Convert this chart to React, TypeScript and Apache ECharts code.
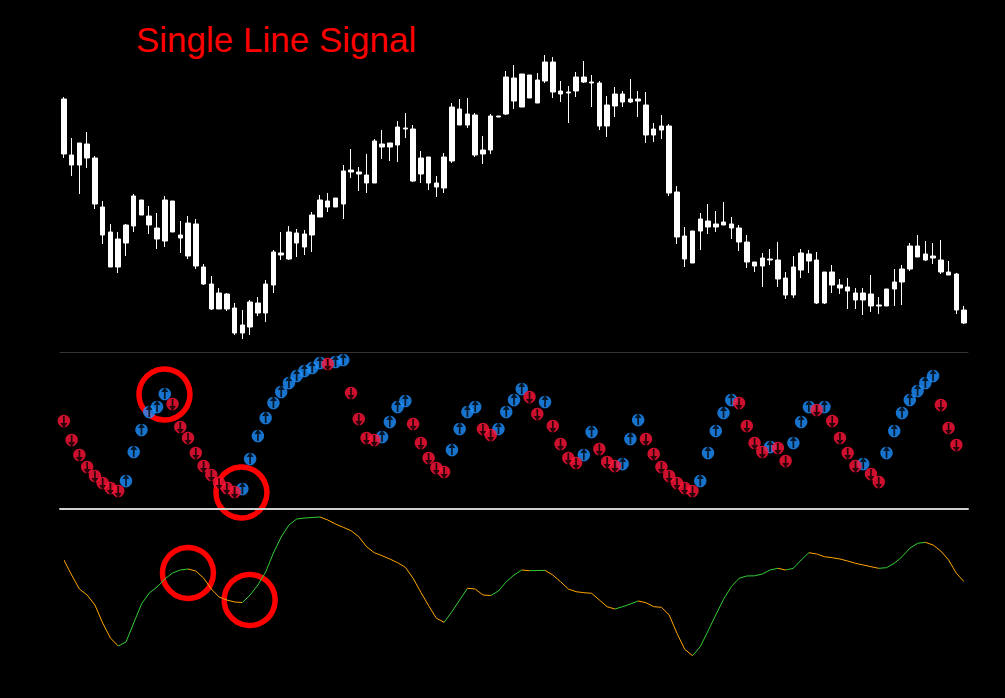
import React, { useEffect, useRef } from "react";
import * as echarts from "echarts";

// [open, close, low, high] (chart units, no price axis shown)
const candles: number[][] = [
  [301, 246, 242, 303], [245, 235, 224, 262], [257, 235, 206, 257], [256, 242, 232, 268], [242, 196, 191, 244],
  [193, 165, 156, 199], [168, 133, 133, 176], [161, 133, 127, 168], [175, 157, 144, 176], [204, 174, 168, 206],
  [200, 185, 185, 200], [184, 175, 166, 194], [172, 161, 151, 187], [200, 159, 153, 204], [199, 168, 168, 199],
  [165, 162, 147, 179], [177, 144, 141, 184], [176, 134, 131, 181], [133, 116, 115, 136], [116, 91, 90, 124],
  [107, 91, 91, 112], [106, 91, 89, 107], [92, 67, 65, 97], [75, 67, 61, 90], [98, 73, 65, 100],
  [97, 87, 84, 103], [116, 87, 78, 120], [148, 115, 107, 150], [147, 145, 140, 168], [168, 141, 140, 174],
  [167, 157, 143, 171], [166, 153, 145, 170], [185, 165, 148, 188], [200, 183, 183, 205], [199, 193, 188, 207],
  [202, 193, 193, 202], [229, 196, 181, 235], [230, 228, 222, 251], [228, 226, 209, 233], [225, 217, 207, 246],
  [259, 217, 217, 261], [256, 253, 241, 270], [257, 253, 239, 257], [273, 255, 238, 279], [272, 271, 262, 287],
  [271, 219, 218, 275], [242, 226, 217, 249], [243, 217, 210, 243], [217, 213, 203, 224], [243, 212, 207, 247],
  [293, 239, 237, 297], [291, 275, 275, 301], [286, 275, 272, 302], [285, 245, 243, 287], [250, 246, 236, 264],
  [284, 250, 246, 286], [284, 283, 283, 284], [323, 286, 285, 329], [322, 299, 291, 335], [326, 293, 293, 326],
  [325, 302, 302, 325], [320, 297, 297, 327], [338, 319, 317, 345], [338, 308, 302, 343], [309, 306, 298, 319],
  [308, 307, 277, 314], [323, 309, 303, 328], [323, 318, 317, 339], [318, 317, 293, 325], [317, 274, 270, 319],
  [295, 274, 263, 304], [306, 294, 283, 313], [306, 298, 293, 309], [301, 298, 297, 321], [301, 299, 283, 309],
  [295, 265, 257, 308], [271, 265, 258, 277], [274, 270, 261, 285], [274, 207, 204, 276], [208, 163, 156, 214],
  [164, 141, 133, 173], [169, 137, 137, 169], [181, 169, 150, 187], [179, 173, 166, 196], [176, 173, 168, 189],
  [178, 175, 175, 198], [176, 172, 161, 183], [172, 158, 149, 175], [158, 138, 132, 165], [138, 134, 128, 138],
  [142, 134, 113, 147], [141, 140, 135, 151], [140, 121, 113, 158], [122, 105, 101, 128], [133, 105, 102, 144],
  [147, 130, 122, 151], [146, 139, 127, 150], [140, 97, 96, 148], [128, 97, 96, 128], [128, 115, 107, 135],
  [115, 112, 106, 121], [113, 109, 91, 122], [107, 100, 91, 112], [107, 100, 85, 112], [106, 94, 88, 125],
  [95, 94, 86, 103], [111, 94, 94, 111], [118, 111, 94, 131], [131, 118, 95, 135], [154, 131, 129, 157],
  [154, 143, 143, 165], [146, 140, 139, 159], [144, 142, 136, 157], [140, 128, 126, 160], [128, 125, 125, 139],
  [126, 90, 86, 127], [90, 77, 76, 94],
];

// signal dot level per bar
const signalValues: (number | null)[] = [
  99, 80, 65, 53, 44, 37, 32, 29, 39, 68,
  90, 108, 113, 126, 116, 93, 82, 67, 54, 45,
  37, 32, 28, 31, 61, 84, 102, 117, 128, 137,
  144, 149, 152, 157, 156, 158, 160, 127, 101, 82,
  80, 83, 98, 113, 119, 96, 77, 62, 52, 48,
  70, 91, 108, 113, 91, 85, 91, 108, 120, 131,
  123, 106, 118, 94, 76, 62, 57, 65, 88, 71,
  58, 54, 56, 81, 100, 81, 66, 53, 44, 37,
  32, 29, 39, 67, 89, 107, 120, 117, 94, 77,
  68, 73, 72, 59, 77, 98, 113, 110, 113, 99,
  82, 67, 54, 56, 46, 38, 67, 89, 107, 120,
  129, 137, 144, 115, 92, 75, null,
];

// 1 = up (blue), -1 = down (red), 0 = none
const signalDirs: number[] = [
  -1, -1, -1, -1, -1, -1, -1, -1, 1, 1,
  1, 1, 1, 1, -1, -1, -1, -1, -1, -1,
  -1, -1, -1, 1, 1, 1, 1, 1, 1, 1,
  1, 1, 1, 1, -1, 1, 1, -1, -1, -1,
  -1, 1, 1, 1, 1, -1, -1, -1, -1, -1,
  1, 1, 1, 1, -1, -1, 1, 1, 1, 1,
  -1, -1, 1, -1, -1, -1, -1, 1, 1, -1,
  -1, -1, 1, 1, 1, -1, -1, -1, -1, -1,
  -1, -1, 1, 1, 1, 1, 1, -1, -1, -1,
  -1, 1, -1, -1, 1, 1, 1, -1, 1, -1,
  -1, -1, -1, 1, -1, -1, 1, 1, 1, 1,
  1, 1, 1, -1, -1, -1, 0,
];

// single signal line per bar
const lineValues: number[] = [
  120, 105, 91, 85, 75, 57, 42, 34, 38, 57,
  76, 87, 93, 101, 107, 110, 111, 109, 102, 91,
  83, 80, 78, 77.5, 85, 95, 108, 127, 143, 155,
  161, 162, 162.5, 163, 160, 156, 152.7, 149.3, 143.3, 133.3,
  127.3, 124.3, 121, 117.3, 112.7, 101.7, 87.7, 74.3, 61.7, 57.7,
  68.3, 80, 91.7, 91, 85, 84.5, 89, 98.3, 105, 110,
  109.3, 109.5, 109.6, 105, 98.3, 91, 88.3, 87.3, 86.7, 80,
  73.3, 71, 73.3, 76, 79, 77.3, 73.3, 72.7, 65, 46.7,
  30.7, 24.3, 33.3, 49, 65, 80.7, 93.3, 101.7, 104, 104.2,
  106, 110, 111.7, 110, 111.7, 120, 127.3, 126, 123.3, 122.3,
  121, 119, 116.7, 115, 113.3, 111.7, 112.3, 116.7, 123.3, 131.7,
  136.7, 137.7, 135, 129, 120, 106.7, 98.3,
];

const titleText = "Single Line Signal";

const BLUE = "#1e90ff";
const RED = "#ff1438";
const GREEN = "#32cd32";
const ORANGE = "#ffa500";

const UP_ARROW = "path://M5,0L10,5L6.2,5L6.2,12L3.8,12L3.8,5L0,5Z";
const DOWN_ARROW = "path://M5,12L10,7L6.2,7L6.2,0L3.8,0L3.8,7L0,7Z";

export default function App() {
  const ref = useRef<HTMLDivElement>(null);

  useEffect(() => {
    document.body.style.margin = "0";
    document.body.style.background = "#000";
    const chart = echarts.init(ref.current as HTMLDivElement, null, { renderer: "svg" });

    const cats = candles.map((_, i) => String(i + 1));
    const blue = signalValues.map((v, i) => (signalDirs[i] === 1 ? v : null));
    const red = signalValues.map((v, i) => (signalDirs[i] === -1 ? v : null));

    // colour runs of the line by direction
    const runs: { s: number; e: number; d: number }[] = [];
    let s = 0;
    let d = lineValues[1] >= lineValues[0] ? 1 : -1;
    for (let i = 1; i < lineValues.length; i++) {
      const nd = lineValues[i] >= lineValues[i - 1] ? 1 : -1;
      if (nd !== d) {
        runs.push({ s, e: i - 1, d });
        s = i - 1;
        d = nd;
      }
    }
    runs.push({ s, e: lineValues.length - 1, d });
    const pieces = runs.map((r, k) =>
      k === 0
        ? { gte: r.s, lte: r.e, color: r.d > 0 ? GREEN : ORANGE }
        : { gt: r.s, lte: r.e, color: r.d > 0 ? GREEN : ORANGE }
    );

    const gridLeft = 60;
    const gridRight = 37;

    const option: any = {
      animation: false,
      backgroundColor: "#000",
      grid: [
        { left: gridLeft, right: gridRight, top: 50, height: 290 },
        { left: gridLeft, right: gridRight, top: 352, height: 157 },
        { left: gridLeft, right: gridRight, top: 509, height: 163 },
      ],
      xAxis: [0, 1, 2].map((g) => ({
        type: "category",
        gridIndex: g,
        data: cats,
        boundaryGap: true,
        position: g === 0 ? "bottom" : "top",
        axisLine: {
          show: g !== 0,
          lineStyle: g === 1 ? { color: "#333", width: 1 } : { color: "#d0d0d0", width: 2 },
        },
        axisTick: { show: false },
        axisLabel: { show: false },
        splitLine: { show: false },
      })),
      yAxis: [
        { type: "value", gridIndex: 0, min: 60, max: 350, show: false, splitLine: { show: false } },
        { type: "value", gridIndex: 1, min: 11, max: 168, show: false, splitLine: { show: false } },
        { type: "value", gridIndex: 2, min: 8, max: 171, show: false, splitLine: { show: false } },
      ],
      visualMap: {
        show: false,
        type: "piecewise",
        dimension: 0,
        seriesIndex: 5,
        pieces,
      },
      series: [
        {
          type: "candlestick",
          xAxisIndex: 0,
          yAxisIndex: 0,
          data: candles,
          barWidth: 5,
          itemStyle: {
            color: "#fff",
            color0: "#fff",
            borderColor: "#fff",
            borderColor0: "#fff",
            borderWidth: 1,
          },
        },
        {
          type: "scatter",
          xAxisIndex: 1,
          yAxisIndex: 1,
          data: blue,
          symbol: "circle",
          symbolSize: 12.5,
          itemStyle: { color: BLUE },
        },
        {
          type: "scatter",
          xAxisIndex: 1,
          yAxisIndex: 1,
          data: red,
          symbol: "circle",
          symbolSize: 12.5,
          itemStyle: { color: RED },
        },
        {
          type: "scatter",
          xAxisIndex: 1,
          yAxisIndex: 1,
          data: blue,
          symbol: UP_ARROW,
          symbolSize: [7, 12],
          symbolOffset: [0, -1],
          itemStyle: { color: "#000" },
        },
        {
          type: "scatter",
          xAxisIndex: 1,
          yAxisIndex: 1,
          data: red,
          symbol: DOWN_ARROW,
          symbolSize: [7, 12],
          symbolOffset: [0, 1],
          itemStyle: { color: "#000" },
        },
        {
          type: "line",
          xAxisIndex: 2,
          yAxisIndex: 2,
          data: lineValues,
          showSymbol: false,
          symbol: "none",
          lineStyle: { width: 1 },
        },
      ],
      graphic: [
        {
          type: "text",
          left: 136,
          top: 22,
          style: {
            text: titleText,
            fill: "#ff0000",
            font: '35px "Liberation Sans", Arial, sans-serif',
          },
        },
        { type: "circle", shape: { cx: 164.5, cy: 394.5, r: 25.5 }, style: { fill: "none", stroke: "#ff0000", lineWidth: 5.5 } },
        { type: "circle", shape: { cx: 241.5, cy: 492.5, r: 25.5 }, style: { fill: "none", stroke: "#ff0000", lineWidth: 5.5 } },
        { type: "circle", shape: { cx: 188, cy: 573, r: 25.5 }, style: { fill: "none", stroke: "#ff0000", lineWidth: 5.5 } },
        { type: "circle", shape: { cx: 249.7, cy: 600, r: 25.5 }, style: { fill: "none", stroke: "#ff0000", lineWidth: 5.5 } },
      ],
    };

    chart.setOption(option);
    return () => chart.dispose();
  }, []);

  return (
    <div
      ref={ref}
      style={{ position: "fixed", left: 0, top: 0, width: 1005, height: 698, background: "#000" }}
    />
  );
}
